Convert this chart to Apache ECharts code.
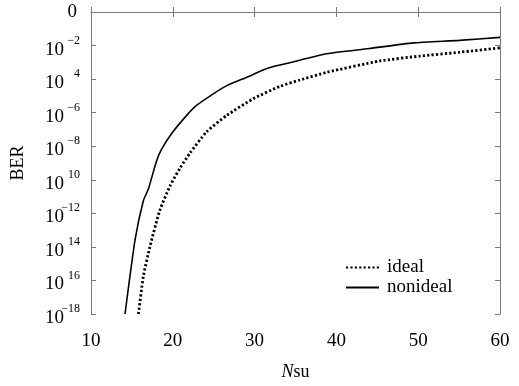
<!DOCTYPE html>
<html><head><meta charset="utf-8">
<script src="https://cdn.jsdelivr.net/npm/echarts@6/dist/echarts.min.js"></script>
<style>html,body{margin:0;padding:0;background:#fff}#c{width:519px;height:386px}</style>
</head><body><div id="c"></div>
<script>
// x: Nsu, y: log10(BER) exponent
const idealN   = [15.8, 16.4, 17.2, 18.4, 19.66, 20.9, 22.1, 24.14, 26.6, 29.8, 33.1, 35.5, 38.8, 45.3, 50.2, 55, 60];
const idealExp = [-18, -15.76, -14.0, -11.84, -10.37, -9.29, -8.41, -7.14, -6.16, -5.18, -4.43, -4.06, -3.6, -2.92, -2.63, -2.4, -2.14];
const nonN     = [14.16, 15.38, 16.4, 17.0, 18.0, 18.6, 19.86, 21.7, 22.9, 24.95, 26.6, 29.0, 31.5, 33.1, 35.5, 38.8, 44, 49.4, 55, 60];
const nonExp   = [-18, -13.6, -11.25, -10.57, -8.9, -8.2, -7.24, -6.16, -5.57, -4.88, -4.39, -3.9, -3.37, -3.16, -2.88, -2.49, -2.18, -1.84, -1.69, -1.51];
// tick labels as printed in the figure: [base, superscript]
const yTickValues = [0, -2, -4, -6, -8, -10, -12, -14, -16, -18];
const yTickLabels = [['', '0'], ['10', '\u22122'], ['10', '4'], ['10', '\u22126'], ['10', '\u22128'], ['10', '10'], ['10', '\u221212'], ['10', '14'], ['10', '16'], ['10', '\u221218']];
const xTicks = [10, 20, 30, 40, 50, 60];
const seriesNames = ['ideal', 'nonideal'];

const font = 'Liberation Serif';
const axisGrey = '#7a7a7a';
const pair = (xs, ys) => xs.map((x, i) => [x, ys[i]]);

const chart = echarts.init(document.getElementById('c'), null, {renderer: 'canvas'});
chart.setOption({
  animation: false,
  backgroundColor: '#fff',
  grid: {left: 91, right: 19, top: 12, bottom: 68},
  legend: {
    orient: 'vertical', left: 340, top: 253, itemWidth: 33, itemHeight: 12, itemGap: 1,
    data: seriesNames,
    itemStyle: {color: 'transparent', borderWidth: 0, opacity: 0},
    textStyle: {fontFamily: font, fontSize: 19, lineHeight: 18, color: '#000', padding: [0, 0, 0, 3]}
  },
  xAxis: [{
    type: 'value', min: 10, max: 60, interval: 10,
    name: '{i|N}{r|su}', nameLocation: 'middle', nameGap: 49,
    nameTextStyle: {rich: {i: {fontFamily: font, fontSize: 18, fontStyle: 'italic', color: '#000'}, r: {fontFamily: font, fontSize: 18, color: '#000'}}},
    axisLine: {lineStyle: {color: axisGrey, width: 1}},
    axisTick: {inside: true, length: 5, lineStyle: {color: axisGrey}},
    axisLabel: {fontFamily: font, fontSize: 19, color: '#000', margin: 18,
      formatter: v => xTicks.includes(v) ? String(v) : ''},
    splitLine: {show: false}
  }, {
    type: 'value', min: 10, max: 60, interval: 10, position: 'top',
    axisLine: {show: true, lineStyle: {color: axisGrey, width: 1}},
    axisTick: {inside: true, length: 5, lineStyle: {color: axisGrey}},
    axisLabel: {show: false}, splitLine: {show: false}
  }],
  yAxis: [{
    type: 'value', min: -18, max: 0, interval: 2,
    name: 'BER', nameLocation: 'middle', nameGap: 64,
    nameTextStyle: {fontFamily: font, fontSize: 18, color: '#000'},
    axisLine: {show: true, lineStyle: {color: axisGrey, width: 1}},
    axisTick: {inside: true, length: 5, lineStyle: {color: axisGrey}},
    axisLabel: {margin: 11,
      formatter: v => {
        const k = yTickValues.indexOf(v);
        if (k < 0) return '';
        const [b, s] = yTickLabels[k];
        if (!b) return '{z|' + s + '}';
        return '{b|' + b + '}{s|' + s + '}';
      },
      rich: {
        b: {fontFamily: font, fontSize: 19, color: '#000', padding: [8, 0, 0, 0]},
        s: {fontFamily: font, fontSize: 12, color: '#000', width: 16, align: 'right', padding: [0, 0, 10, 0]},
        z: {fontFamily: font, fontSize: 19, color: '#000', padding: [0, 3, 0, 0]}
      }
    },
    splitLine: {show: false}
  }, {
    type: 'value', min: -18, max: 0, interval: 2, position: 'right',
    axisLine: {show: true, lineStyle: {color: axisGrey, width: 1}},
    axisTick: {inside: true, length: 5, lineStyle: {color: axisGrey}},
    axisLabel: {show: false}, splitLine: {show: false}
  }],
  series: [{
    name: seriesNames[0], type: 'line', symbol: 'none', data: pair(idealN, idealExp), smooth: 0.2,
    lineStyle: {color: '#000', width: 2.8, type: [2.2, 2.2]}, itemStyle: {color: '#000'}
  }, {
    name: seriesNames[1], type: 'line', symbol: 'none', data: pair(nonN, nonExp), smooth: 0.2,
    lineStyle: {color: '#000', width: 1.6, type: 'solid'}, itemStyle: {color: '#000'}
  }]
});
</script></body></html>
